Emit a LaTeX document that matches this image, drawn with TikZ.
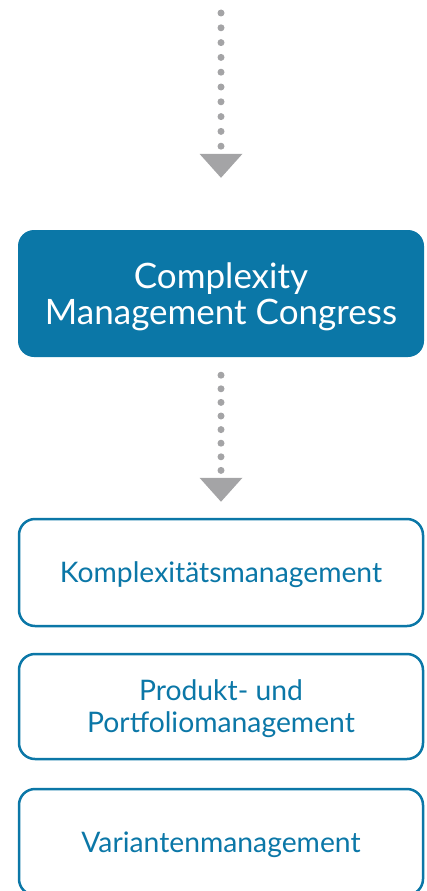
\documentclass[tikz,border=0pt]{standalone}
\usepackage{fontspec}
\setmainfont{Lato}
\usetikzlibrary{arrows.meta}

\definecolor{cmblue}{RGB}{11,119,167}
\definecolor{cmgrey}{RGB}{164,164,166}

\begin{document}
\begin{tikzpicture}[x=1pt,y=-1pt]
\tikzset{
  every node/.style={inner sep=0pt,text depth=0pt},
  mainbox/.style={fill=cmblue,rounded corners=16pt,minimum width=406pt,text=white,align=center,
    text depth=-4pt,font=\fontsize{35}{36.5}\selectfont},
  topicbox/.style={draw=cmblue,line width=2.5pt,rounded corners=16pt,minimum width=404pt,text=cmblue,
    align=center,font=\fontsize{28.3}{32}\selectfont},
  dotarrow/.style={draw=cmgrey,line width=7pt,line cap=round,
    -{Triangle[width=43pt,length=24pt,line width=0pt]}}
}
\useasboundingbox (0,0) rectangle (426,891);
\coordinate (start) at (221,13);
\node [mainbox,minimum height=127pt] (congress) at (221,293.5) {Complexity\\Management Congress};
\node [topicbox,minimum height=107pt] (komplex) at (221,572.5) {Komplexitätsmanagement};
\node [topicbox,minimum height=105pt] (produkt) at (221,706.5) {Produkt- und\\Portfoliomanagement};
\node [topicbox,minimum height=106pt] (variant) at (221,842) {Variantenmanagement};
\draw [dotarrow,dash pattern=on 0pt off 14.8pt,shorten >=52pt] (start) -- (congress.north);
\draw [dotarrow,dash pattern=on 0pt off 13.6pt,shorten <=18pt,shorten >=16pt] (congress.south) -- (komplex.north);
\end{tikzpicture}
\end{document}
